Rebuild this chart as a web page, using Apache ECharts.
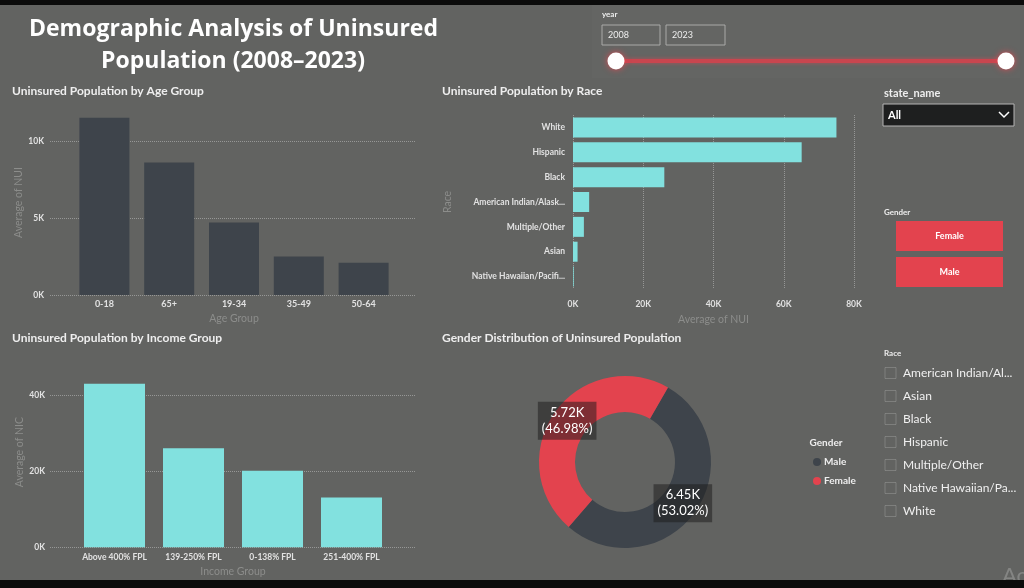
<!DOCTYPE html>
<html>
<head>
<meta charset="utf-8">
<title>Demographic Analysis of Uninsured Population</title>
<script src="https://cdn.jsdelivr.net/npm/echarts@6.0.0/dist/echarts.min.js"></script>
<style>
  html, body { margin: 0; padding: 0; background: #626361; }
  #main { width: 1024px; height: 588px; }
</style>
</head>
<body>
<div id="main"></div>
<script>
  // values
  const ageGroups = ['0-18', '65+', '19-34', '35-49', '50-64']
  const ageValues = [11500, 8600, 4700, 2500, 2100]

  const races = ['White', 'Hispanic', 'Black', 'American Indian/Alaska Native', 'Multiple/Other', 'Asian', 'Native Hawaiian/Pacific Islander']
  const raceValues = [75000, 65100, 26000, 4600, 3100, 1300, 200]

  const incomeGroups = ['Above 400% FPL', '139-250% FPL', '0-138% FPL', '251-400% FPL']
  const incomeValues = [43000, 26000, 20100, 13100]

  const genders = ['Male', 'Female']
  const genderValues = [6454, 5718]

  const yearRange = [2008, 2023]
  const raceSlicer = ['American Indian/Alaska Native', 'Asian', 'Black', 'Hispanic', 'Multiple/Other', 'Native Hawaiian/Pacific Islander', 'White']

  const FONT = 'Lato'
  const RED = '#e3434e'
  const SLATE = '#3e444b'
  const TEAL = '#82e1df'
  const TICK = '#e2e2e2'
  const DIM = '#8c8d8b'
  const GRIDLINE = 'rgba(215,215,215,0.45)'

  const kFormat = step => v => (v % step ? '' : v / 1000 + 'K')

  function txt (text, x, y, size, opts) {
    opts = opts || {}
    return {
      type: 'text',
      z: opts.z || 10,
      style: {
        text: text,
        x: x,
        y: y,
        fill: opts.color || '#eeeeee',
        font: (opts.weight || 'bold') + ' ' + size + 'px ' + (opts.family || FONT),
        textAlign: opts.align || 'left',
        align: opts.align || 'left',
        textVerticalAlign: 'middle',
        verticalAlign: 'middle',
        width: opts.width,
        overflow: opts.width ? 'truncate' : undefined,
        ellipsis: '...'
      }
    }
  }

  const graphics = []
  // year slicer panel
  graphics.push({type: 'rect', shape: {x: 592, y: 5, width: 428, height: 73}, style: {fill: 'rgba(255,255,255,0.015)'}})
  graphics.push(txt('year', 602, 14, 8))
  graphics.push({type: 'rect', shape: {x: 602, y: 25, width: 58, height: 20}, style: {fill: 'none', stroke: '#a9aaa8', lineWidth: 1}})
  graphics.push({type: 'rect', shape: {x: 666, y: 25, width: 59, height: 20}, style: {fill: 'none', stroke: '#a9aaa8', lineWidth: 1}})
  graphics.push(txt(String(yearRange[0]), 608, 35.5, 9, {weight: 'normal'}))
  graphics.push(txt(String(yearRange[1]), 672, 35.5, 9, {weight: 'normal'}))
  graphics.push({type: 'line', shape: {x1: 616, y1: 61, x2: 1006, y2: 61}, style: {stroke: '#c9464f', lineWidth: 4, shadowBlur: 4, shadowColor: 'rgba(230,70,80,0.6)'}})
  graphics.push({type: 'circle', shape: {cx: 616, cy: 61, r: 8.5}, style: {fill: '#ffffff', shadowBlur: 6, shadowColor: 'rgba(235,70,80,0.9)'}})
  graphics.push({type: 'circle', shape: {cx: 1006, cy: 61, r: 8.5}, style: {fill: '#ffffff', shadowBlur: 6, shadowColor: 'rgba(235,70,80,0.9)'}})

  // state dropdown
  graphics.push(txt('state_name', 884, 93, 11))
  graphics.push({type: 'rect', shape: {x: 883, y: 104, width: 131, height: 22}, style: {fill: '#1e1f1f', stroke: '#b5b5b5', lineWidth: 1}})
  graphics.push(txt('All', 888, 115.5, 11, {color: '#ffffff'}))
  graphics.push({type: 'polyline', shape: {points: [[999, 112], [1004, 117], [1009, 112]]}, style: {stroke: '#ffffff', lineWidth: 1.5, fill: 'none'}})

  // gender buttons
  graphics.push(txt('Gender', 884, 212, 8))
  genders.slice().reverse().forEach(function (g, i) {
    const y = 221 + i * 36
    graphics.push({type: 'rect', shape: {x: 896, y: y, width: 107, height: 30}, style: {fill: RED}})
    graphics.push(txt(g, 949.5, y + 15, 9, {align: 'center', color: '#ffffff'}))
  })

  // race checklist
  graphics.push(txt('Race', 884, 353, 8))
  raceSlicer.forEach(function (r, i) {
    const cy = 373 + i * 23
    graphics.push({type: 'rect', shape: {x: 885, y: cy - 5.5, width: 11, height: 11}, style: {fill: 'none', stroke: 'rgba(255,255,255,0.18)', lineWidth: 1}})
    graphics.push(txt(r, 903, cy, 12, {weight: 'normal', color: '#f0f0f0', width: 116}))
  })

  // main title + section titles
  graphics.push(txt('Demographic Analysis of Uninsured', 233.5, 29, 23, {align: 'center', color: '#ffffff', family: 'Open Sans'}))
  graphics.push(txt('Population (2008\u20132023)', 233, 61, 23, {align: 'center', color: '#ffffff', family: 'Open Sans'}))
  graphics.push(txt('Uninsured Population by Age Group', 12, 91, 12))
  graphics.push(txt('Uninsured Population by Race', 442, 91, 12))
  graphics.push(txt('Uninsured Population by Income Group', 12, 338, 12))
  graphics.push(txt('Gender Distribution of Uninsured Population', 442, 338, 12))
  graphics.push(txt('Gender', 826, 443, 10, {align: 'center'}))

  // watermark and screen bands
  graphics.push(txt('Ac', 1002, 576, 22, {weight: 'normal', color: 'rgba(255,255,255,0.22)'}))
  graphics.push({type: 'rect', z: 20, shape: {x: 0, y: 0, width: 1024, height: 5}, style: {fill: '#0b0b0b'}})
  graphics.push({type: 'rect', z: 20, shape: {x: 0, y: 580, width: 1024, height: 8}, style: {fill: '#0b0b0b'}})

  const chart = echarts.init(document.getElementById('main'), null, {width: 1024, height: 588})
  chart.setOption({
    backgroundColor: '#626361',
    animation: false,
    textStyle: {fontFamily: FONT},
    grid: [
      {left: 72, right: 628, top: 110, bottom: 293},   // age bars
      {left: 50, right: 609, top: 110, bottom: 293},   // age gridlines
      {left: 573, right: 170, top: 115, bottom: 299},  // race
      {left: 75, right: 633, top: 357, bottom: 40.7},  // income bars
      {left: 50, right: 609, top: 357, bottom: 40.7}   // income gridlines
    ],
    xAxis: [
      {
        gridIndex: 0, type: 'category', data: ageGroups,
        axisLine: {show: false}, axisTick: {show: false},
        axisLabel: {color: TICK, fontSize: 9, fontWeight: 'bold', margin: 5},
        name: 'Age Group', nameLocation: 'middle', nameGap: 18,
        nameTextStyle: {color: DIM, fontSize: 10.5}
      },
      {gridIndex: 1, type: 'value', show: false},
      {
        gridIndex: 2, type: 'value', min: 0, max: 80000, interval: 20000,
        axisLine: {show: false}, axisTick: {show: false},
        axisLabel: {color: TICK, fontSize: 8.5, fontWeight: 'bold', margin: 11, formatter: kFormat(20000)},
        splitLine: {lineStyle: {type: 'dotted', color: GRIDLINE}},
        name: 'Average of NUI', nameLocation: 'middle', nameGap: 25,
        nameTextStyle: {color: DIM, fontSize: 10.5}
      },
      {
        gridIndex: 3, type: 'category', data: incomeGroups,
        axisLine: {show: false}, axisTick: {show: false},
        axisLabel: {color: TICK, fontSize: 8.5, fontWeight: 'bold', margin: 5, interval: 0},
        name: 'Income Group', nameLocation: 'middle', nameGap: 19,
        nameTextStyle: {color: DIM, fontSize: 10.5}
      },
      {gridIndex: 4, type: 'value', show: false}
    ],
    yAxis: [
      {
        gridIndex: 0, type: 'value', min: 0, max: 12000, interval: 5000,
        axisLine: {show: false}, axisTick: {show: false}, splitLine: {show: false},
        axisLabel: {color: TICK, fontSize: 8.5, fontWeight: 'bold', margin: 28, showMaxLabel: false, formatter: kFormat(5000)},
        name: 'Average of NUI', nameLocation: 'middle', nameGap: 47,
        nameTextStyle: {color: DIM, fontSize: 10.5}
      },
      {
        gridIndex: 1, type: 'value', min: 0, max: 12000, interval: 5000,
        axisLine: {show: false}, axisTick: {show: false}, axisLabel: {show: false},
        splitLine: {showMaxLine: false, lineStyle: {type: 'dotted', color: GRIDLINE}}
      },
      {
        gridIndex: 2, type: 'category', data: races, inverse: true,
        axisLine: {show: false}, axisTick: {show: false},
        axisLabel: {color: TICK, fontSize: 8.5, fontWeight: 'bold', margin: 8, width: 96, overflow: 'truncate', ellipsis: '...'},
        name: 'Race', nameLocation: 'middle', nameGap: 120,
        nameTextStyle: {color: DIM, fontSize: 10.5}
      },
      {
        gridIndex: 3, type: 'value', min: 0, max: 50000, interval: 20000,
        axisLine: {show: false}, axisTick: {show: false}, splitLine: {show: false},
        axisLabel: {color: TICK, fontSize: 8.5, fontWeight: 'bold', margin: 30, showMaxLabel: false, formatter: kFormat(20000)},
        name: 'Average of NIC', nameLocation: 'middle', nameGap: 50,
        nameTextStyle: {color: DIM, fontSize: 10.5}
      },
      {
        gridIndex: 4, type: 'value', min: 0, max: 50000, interval: 20000,
        axisLine: {show: false}, axisTick: {show: false}, axisLabel: {show: false},
        splitLine: {showMaxLine: false, lineStyle: {type: 'dotted', color: GRIDLINE}}
      }
    ],
    legend: {
      data: genders, orient: 'vertical', left: 808, top: 452,
      icon: 'circle', itemWidth: 8, itemHeight: 8, itemGap: 9,
      textStyle: {color: '#eeeeee', fontSize: 10, fontWeight: 'bold', padding: [0, 0, 0, -2]}
    },
    series: [
      {type: 'bar', xAxisIndex: 0, yAxisIndex: 0, data: ageValues, barWidth: 50, itemStyle: {color: SLATE}, z: 3},
      {type: 'bar', xAxisIndex: 2, yAxisIndex: 2, data: raceValues, barWidth: 20, itemStyle: {color: TEAL}, z: 3},
      {type: 'bar', xAxisIndex: 3, yAxisIndex: 3, data: incomeValues, barWidth: 61, itemStyle: {color: TEAL}, z: 3},
      {
        type: 'pie', center: [625, 462], radius: [50, 86], startAngle: 60,
        percentPrecision: 2,
        data: genders.map((g, i) => ({name: g, value: genderValues[i], itemStyle: {color: i === 0 ? SLATE : RED}})),
        label: {
          position: 'inside', color: '#ffffff', fontSize: 13, lineHeight: 16,
          backgroundColor: 'rgba(25,25,25,0.5)', padding: [3, 4],
          formatter: p => (p.value / 1000).toFixed(2) + 'K\n(' + p.percent.toFixed(2) + '%)'
        },
        labelLine: {show: false}
      }
    ],
    graphic: graphics
  })
</script>
</body>
</html>
